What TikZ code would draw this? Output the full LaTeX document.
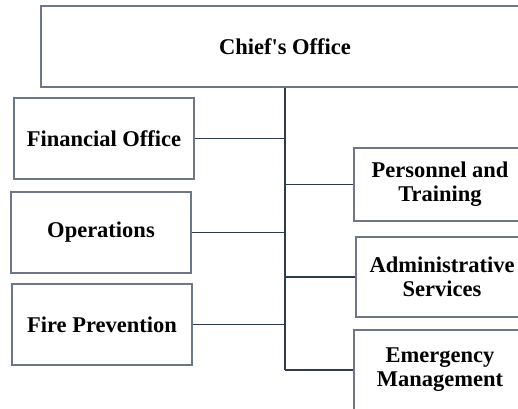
\documentclass[tikz,border=0pt]{standalone}
\usepackage{fontspec}
\setmainfont{Liberation Serif}
\usepackage{tikz}
\usetikzlibrary{positioning}

\definecolor{boxgray}{HTML}{6E7787}
\definecolor{linenavy}{HTML}{2F3B50}

\tikzset{
	unit/.style={draw=boxgray, line width=1.4pt, fill=white, align=center,
		font=\fontsize{22.5}{24}\selectfont\bfseries, inner sep=0pt},
	leftunit/.style={unit, minimum width=180pt, minimum height=81pt},
	rightunit/.style={unit, minimum width=172pt, minimum height=80pt},
	trunk/.style={draw=linenavy, line width=2pt},
	branch/.style={draw=linenavy, line width=1.1pt}
}

\begin{document}
\begin{tikzpicture}[x=1pt,y=-1pt]
\useasboundingbox (0,0) rectangle (518,408);
\clip (0,0) rectangle (518,408);

% top box
\node[unit, minimum width=488pt, minimum height=81pt] (chief) at (285,46.5) {Chief\textquotesingle s Office};

% left column
\node[leftunit] (finance) at (104,138.5) {Financial Office};
\node[leftunit] (ops) at (101,232.5) {Operations};
\node[leftunit] (prevention) at (102,324.5) {Fire Prevention};

% right column
\node[rightunit, minimum height=73pt] (personnel) at (440,184.5) {Personnel and\\Training};
\node[rightunit] (admin) at (442,277) {Administrative\\Services};
\node[rightunit] (emergency) at (440,370) {Emergency\\Management};

% links to the trunk
\foreach \u in {finance,ops,prevention} {
	\draw[branch] (\u.east) -- (\u.east -| chief.south);
}
\foreach \u in {personnel,admin,emergency} {
	\draw[branch] (\u.west) -- (\u.west -| chief.south);
}

% trunk
\draw[trunk] (chief.south) -- (chief.south |- emergency.west);
\end{tikzpicture}
\end{document}
